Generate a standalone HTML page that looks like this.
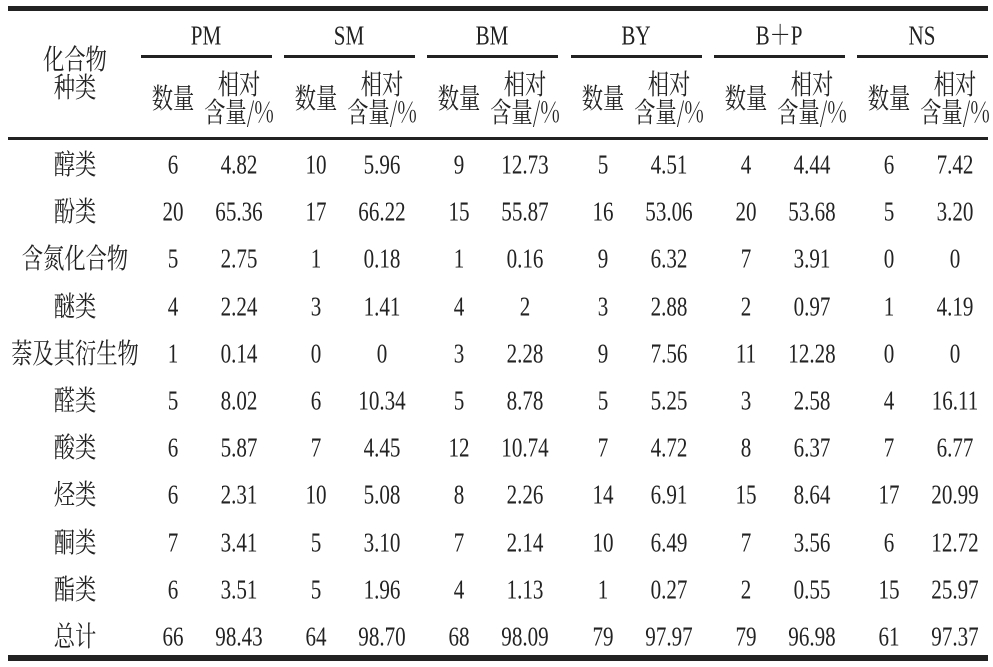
<!DOCTYPE html>
<html><head><meta charset="utf-8"><style>
body{margin:0;background:#fff;}
#t{position:relative;width:993px;height:667px;overflow:hidden;font-family:"Liberation Serif","Noto Serif CJK SC","Noto Sans CJK SC",serif;color:#222;}
.c{position:absolute;white-space:nowrap;font-size:27px;line-height:27px;transform:translate(-50%,-50%) scaleX(0.78);}
.z{font-family:"Noto Serif CJK SC","Noto Sans CJK SC",serif;font-size:28px;line-height:28px;font-weight:400;text-align:center;transform:translate(-50%,-50%) scaleX(0.76);}
.l{position:absolute;background:#222;}
</style></head><body>
<div id="t">
<div class="l" style="left:8px;top:6px;width:980px;height:5px"></div>
<div class="l" style="left:8px;top:137px;width:980px;height:3px"></div>
<div class="l" style="left:8px;top:655px;width:980px;height:6px"></div>
<div class="c z" style="left:75px;top:72px">化合物<br>种类</div>
</div>
<script>
const groups=["PM","SM","BM","BY","B＋P","NS"];
const rowLabels=["醇类","酚类","含氮化合物","醚类","萘及其衍生物","醛类","酸类","烃类","酮类","酯类","总计"];
const counts=[[6,10,9,5,4,6],[20,17,15,16,20,5],[5,1,1,9,7,0],[4,3,4,3,2,1],[1,0,3,9,11,0],[5,6,5,5,3,4],[6,7,12,7,8,7],[6,10,8,14,15,17],[7,5,7,10,7,6],[6,5,4,1,2,15],[66,64,68,79,79,61]];
const pcts=[["4.82","5.96","12.73","4.51","4.44","7.42"],["65.36","66.22","55.87","53.06","53.68","3.20"],["2.75","0.18","0.16","6.32","3.91","0"],["2.24","1.41","2","2.88","0.97","4.19"],["0.14","0","2.28","7.56","12.28","0"],["8.02","10.34","8.78","5.25","2.58","16.11"],["5.87","4.45","10.74","4.72","6.37","6.77"],["2.31","5.08","2.26","6.91","8.64","20.99"],["3.41","3.10","2.14","6.49","3.56","12.72"],["3.51","1.96","1.13","0.27","0.55","25.97"],["98.43","98.70","98.09","97.97","96.98","97.37"]];
const t=document.getElementById('t');
function add(cls,html,x,y,name){const d=document.createElement('div');d.className=cls;d.innerHTML=html;d.style.left=x+'px';d.style.top=y+'px';


t.appendChild(d);return d;}
groups.forEach((g,i)=>{const cx=173+i*143.2,px=239+i*143.2;
add('c',g,(cx+px)/2,36,'group-header');
const u=document.createElement('div');u.className='l';u.style.left=(141+i*143.2)+'px';u.style.top='55px';u.style.width='131px';u.style.height='3px';


t.appendChild(u);
add('c z','数量',cx,97,'count-header');
add('c z','相对<br>含量/%',px,97,'percent-header');
rowLabels.forEach((r,j)=>{const y=165+j*47.2;
add('c',counts[j][i],cx,y,'count-cell');
add('c',pcts[j][i],px,y,'percent-cell');});
});
rowLabels.forEach((r,j)=>add('c z',r,75,163+j*47.2,'row-label'));
</script>
</body></html>
